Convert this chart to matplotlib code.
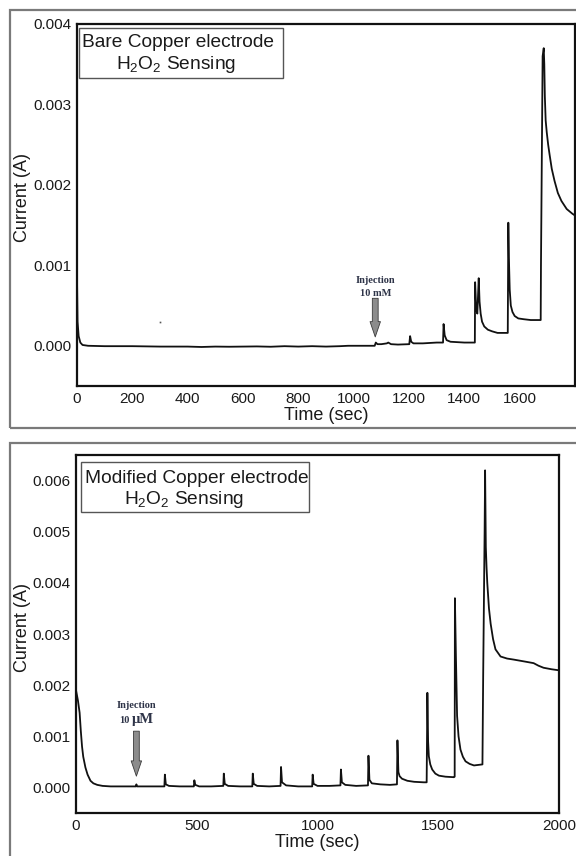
import matplotlib
matplotlib.use("Agg")
import matplotlib.pyplot as plt
from matplotlib.patches import Rectangle

plt.rcParams['font.family'] = ['Liberation Sans', 'DejaVu Sans']
plt.rcParams['mathtext.fontset'] = 'custom'
plt.rcParams['mathtext.rm'] = 'Liberation Sans'
plt.rcParams['mathtext.it'] = 'Liberation Sans:italic'
plt.rcParams['mathtext.bf'] = 'Liberation Sans:bold'

# ---------------- data: bare copper electrode ----------------
time_bare = [0, 2, 6, 12, 20, 40, 100, 200, 300, 400, 450, 500, 550, 600, 650, 700,
             750, 800, 850, 900, 950, 980, 1000, 1050, 1076, 1080, 1086, 1100, 1120,
             1125, 1135, 1160, 1201, 1204, 1208, 1216, 1250, 1300, 1323, 1325, 1329,
             1336, 1350, 1400, 1438, 1439, 1443, 1447, 1452, 1455, 1459, 1464, 1472,
             1485, 1500, 1520, 1557, 1559, 1561, 1564, 1568, 1574, 1582, 1595, 1615,
             1640, 1676, 1677, 1683, 1687, 1689, 1691, 1694, 1698, 1703, 1708, 1716,
             1726, 1738, 1751, 1770, 1791, 1800]
current_bare = [0.00085, 0.00030, 0.00012, 0.00004, 0.00001, 0.0, -0.000005, -0.000005,
                -0.00001, -0.00001, -0.000015, -0.00001, -0.000012, -0.00001, -0.000008,
                -0.000012, -0.000005, -0.00001, -0.000005, -0.00001, -0.000005, 0.0, 0.0,
                0.0, 0.0, 0.00004, 0.00002, 0.00002, 0.00003, 0.00004, 0.00002, 0.000015,
                0.00002, 0.00012, 0.00005, 0.00003, 0.00003, 0.00004, 0.00004, 0.00027,
                0.00013, 0.00007, 0.00005, 0.00004, 0.00004, 0.00079, 0.00045, 0.00040,
                0.00084, 0.00055, 0.00040, 0.00030, 0.00024, 0.00020, 0.00018, 0.00016,
                0.00016, 0.00153, 0.00110, 0.00070, 0.00050, 0.00042, 0.00037, 0.00034,
                0.00033, 0.00032, 0.00032, 0.00100, 0.00360, 0.00370, 0.00350, 0.00310,
                0.00280, 0.00265, 0.00250, 0.00238, 0.00220, 0.00205, 0.00190, 0.00180,
                0.00170, 0.00164, 0.00162]
stray_time = [299]
stray_current = [0.0003]

# ---------------- data: modified copper electrode ----------------
time_mod = [0, 4, 8, 15, 20, 25, 30, 39, 48, 60, 72, 88, 110, 143, 200, 248, 250, 253,
            300, 366, 368, 372, 385, 430, 488, 490, 494, 510, 560, 610, 612, 616, 630,
            680, 730, 732, 736, 750, 800, 847, 849, 853, 870, 920, 978, 980, 984, 1000,
            1050, 1095, 1097, 1101, 1115, 1160, 1209, 1211, 1215, 1225, 1260, 1300, 1329,
            1331, 1335, 1340, 1350, 1372, 1400, 1440, 1452, 1455, 1458, 1461, 1467, 1475,
            1488, 1503, 1530, 1565, 1568, 1569, 1573, 1578, 1584, 1592, 1602, 1613, 1630,
            1648, 1683, 1686, 1692, 1694, 1697, 1700, 1703, 1710, 1717, 1727, 1737, 1758,
            1785, 1812, 1860, 1895, 1915, 1936, 1970, 2000]
current_mod = [0.0019, 0.0018, 0.0017, 0.00146, 0.0011, 0.0008, 0.0006, 0.00039,
               0.00025, 0.00013, 0.00008, 0.00005, 0.00003, 0.00002, 0.00002, 0.00002,
               0.00006, 0.00002, 0.00002, 0.00002, 0.00025, 0.00006, 0.00003, 0.00002,
               0.00002, 0.00014, 0.00005, 0.00002, 0.00002, 0.00003, 0.00027, 0.00007,
               0.00003, 0.00002, 0.00002, 0.00027, 0.00007, 0.00003, 0.00002, 0.00003,
               0.00040, 0.00010, 0.00004, 0.00002, 0.00002, 0.00025, 0.00007, 0.00003,
               0.00003, 0.00004, 0.00035, 0.00010, 0.00005, 0.00003, 0.00004, 0.00062,
               0.00015, 0.00008, 0.00006, 0.00005, 0.00006, 0.00092, 0.00030, 0.00022,
               0.00017, 0.00013, 0.00011, 0.00010, 0.00010, 0.00185, 0.00090, 0.00061,
               0.00045, 0.00035, 0.00027, 0.00023, 0.00021, 0.00020, 0.00021, 0.00370,
               0.00260, 0.00140, 0.00100, 0.00074, 0.00060, 0.00051, 0.00046, 0.00043,
               0.00045, 0.00217, 0.00500, 0.00620, 0.00470, 0.00430, 0.00400, 0.00350,
               0.00320, 0.00290, 0.00270, 0.00256, 0.00252, 0.00250, 0.00246, 0.00243,
               0.00238, 0.00234, 0.00231, 0.00229]

bare_xticks = [0, 200, 400, 600, 800, 1000, 1200, 1400, 1600]
bare_yticks = [0.000, 0.001, 0.002, 0.003, 0.004]
mod_xticks = [0, 500, 1000, 1500, 2000]
mod_yticks = [0.000, 0.001, 0.002, 0.003, 0.004, 0.005, 0.006]

bare_injection_time = 1078
mod_injection_time = 250

# ---------------- figure ----------------
fig = plt.figure(figsize=(5.76, 8.56), dpi=100)

# outer grey frames
for (l, b, t) in [(10 / 576, 1 - 428 / 856, 1 - 10 / 856),
                  (10 / 576, -0.05, 1 - 443 / 856)]:
    fig.add_artist(Rectangle((l, b), 1.2, t - b, transform=fig.transFigure,
                             fill=False, ec='#7a7a7a', lw=1.6, clip_on=False))

ax1 = fig.add_axes([77 / 576, 1 - 386 / 856, 498 / 576, 362 / 856])
ax2 = fig.add_axes([76 / 576, 1 - 813 / 856, 483 / 576, 358 / 856])

line_kw = dict(color='#111111', lw=1.3, solid_joinstyle='round')
ax1.plot(time_bare, current_bare, **line_kw)
ax1.plot(stray_time, stray_current, 's', ms=1.2, color='#555555', mec='none')
ax2.plot(time_mod, current_mod, **line_kw)

ax1.set_xlim(0, 1800)
ax1.set_ylim(-0.0005, 0.004)
ax2.set_xlim(0, 2000)
ax2.set_ylim(-0.0005, 0.0065)

ax1.set_xticks(bare_xticks)
ax1.set_yticks(bare_yticks)
ax2.set_xticks(mod_xticks)
ax2.set_yticks(mod_yticks)

for ax in (ax1, ax2):
    ax.set_yticklabels([f"{v:.3f}" for v in ax.get_yticks()])
    ax.tick_params(length=0, labelsize=11, pad=4, labelcolor='#1a1a1a')
    for s in ax.spines.values():
        s.set_linewidth(1.6)
        s.set_color('#111111')
    ax.set_xlabel('Time (sec)', fontsize=13, labelpad=1, color='#1a1a1a')
    ax.set_ylabel('Current (A)', fontsize=13, color='#1a1a1a')

ax1.yaxis.set_label_coords(-0.092, 0.52)
ax2.yaxis.set_label_coords(-0.093, 0.517)

# title boxes
ax1.add_patch(Rectangle((0.004, 0.851), 0.41, 0.138, transform=ax1.transAxes,
                        fill=False, ec='#555555', lw=1.0))
ax1.text(0.01, 0.937, 'Bare Copper electrode', transform=ax1.transAxes,
         fontsize=13.8, va='baseline', ha='left', color='#1a1a1a')
ax1.text(0.078, 0.877, 'H$_2$O$_2$ Sensing', transform=ax1.transAxes,
         fontsize=13.8, va='baseline', ha='left', color='#1a1a1a')

ax2.add_patch(Rectangle((0.0104, 0.8408), 0.472, 0.1396, transform=ax2.transAxes,
                        fill=False, ec='#555555', lw=1.0))
ax2.text(0.0186, 0.921, 'Modified Copper electrode', transform=ax2.transAxes,
         fontsize=13.8, va='baseline', ha='left', color='#1a1a1a')
ax2.text(0.0994, 0.863, 'H$_2$O$_2$ Sensing', transform=ax2.transAxes,
         fontsize=13.8, va='baseline', ha='left', color='#1a1a1a')

# injection arrows
arrow_kw = dict(arrowstyle='simple,head_width=0.75,head_length=1.1,tail_width=0.42',
                fc='#8c8c8c', ec='#3a3a3a', lw=0.6, mutation_scale=10,
                shrinkA=0, shrinkB=0)
ax1.annotate('', xy=(bare_injection_time, 0.00011),
             xytext=(bare_injection_time, 0.00059), arrowprops=arrow_kw)
ax2.annotate('', xy=(mod_injection_time, 0.00022),
             xytext=(mod_injection_time, 0.0011), arrowprops=arrow_kw)

serif = ['Liberation Serif', 'DejaVu Serif']
inj_color = '#2e3448'
ax1.text(bare_injection_time, 0.00081, 'Injection', family=serif, weight='bold',
         fontsize=7.5, ha='center', va='center', color=inj_color)
ax1.text(bare_injection_time, 0.00065, '10 mM', family=serif, weight='bold',
         fontsize=7.5, ha='center', va='center', color=inj_color)
ax2.text(mod_injection_time, 0.0016, 'Injection', family=serif, weight='bold',
         fontsize=7.5, ha='center', va='center', color=inj_color)
ax2.text(mod_injection_time - 28, 0.00126, '10', family=serif, weight='bold',
         fontsize=7.5, ha='right', va='baseline', color=inj_color)
ax2.text(mod_injection_time - 20, 0.00126, 'μM', family=serif, weight='bold',
         fontsize=10.5, ha='left', va='baseline', color=inj_color)

fig.savefig('out.png', dpi=100)
